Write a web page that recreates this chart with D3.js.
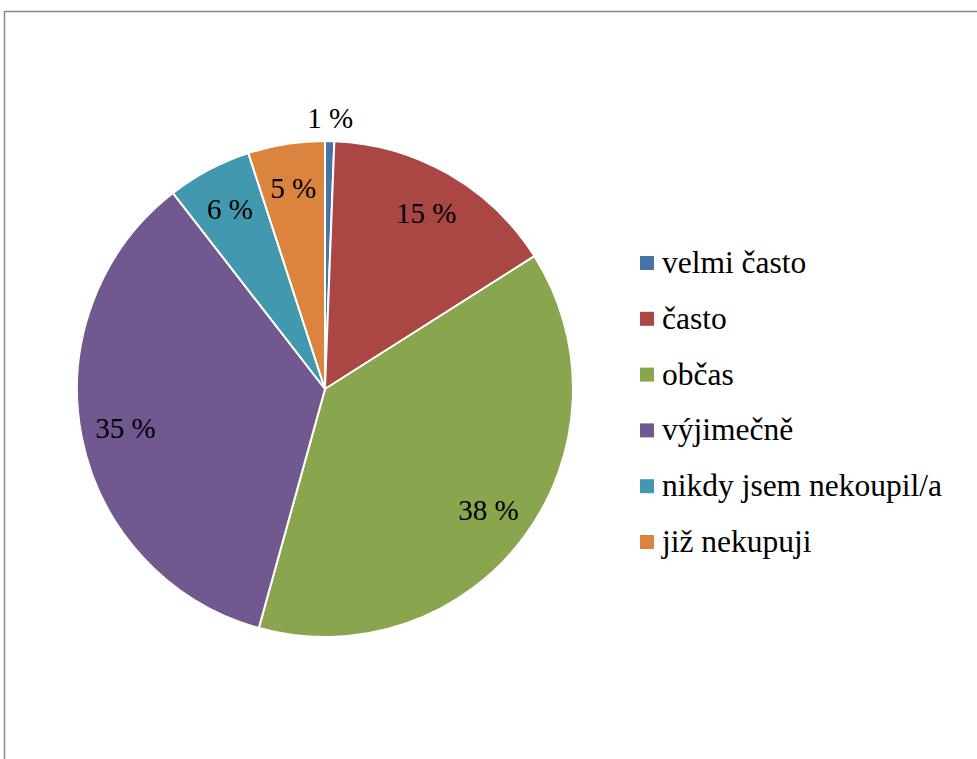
<!DOCTYPE html>
<html>
<head>
<meta charset="utf-8">
<script src="https://cdn.jsdelivr.net/npm/d3@7"></script>
<style>
  html, body { margin: 0; padding: 0; background: #fff; }
  svg { display: block; }
  svg text { font-family: "Liberation Serif", serif !important; }
</style>
</head>
<body>
<svg id="chart" width="977" height="759"></svg>
<script>
// Survey answers: how often the respondent buys
const categories = ["velmi často", "často", "občas", "výjimečně", "nikdy jsem nekoupil/a", "již nekupuji"];
const shares = [0.6, 15.4, 38.3, 35.2, 5.5, 5.0];
const colors = ["#4572A7", "#AA4643", "#89A54E", "#71588F", "#4198AF", "#DB843D"];

const FONT = "'Liberation Serif', serif";

const svg = d3.select("#chart");
const W = 977, H = 759;

// chart frame (open to the right and bottom)
svg.append("rect")
  .attr("x", 4.5).attr("y", 11.5)
  .attr("width", W + 10).attr("height", H + 10)
  .attr("fill", "#fff")
  .attr("stroke", "#878787")
  .attr("stroke-width", 1.5);

const cx = 325, cy = 389, R = 248;
const labelSize = 29, legendSize = 31.5;

const data = categories.map((c, i) => ({ name: c, value: shares[i], color: colors[i] }));

const pie = d3.pie().value(d => d.value).sort(null);
const arcs = pie(data);
const arc = d3.arc().innerRadius(0).outerRadius(R);

const g = svg.append("g").attr("transform", `translate(${cx},${cy})`);

g.selectAll("path.slice")
  .data(arcs)
  .join("path")
  .attr("class", "slice")
  .attr("d", arc)
  .attr("fill", d => d.data.color)
  .attr("stroke", "#fff")
  .attr("stroke-width", 2)
  .attr("stroke-linejoin", "round");

// percentage labels: inside the slice, or just outside for a very thin slice
const insideArc = d3.arc().innerRadius(R * 0.82).outerRadius(R * 0.82);
const outsideArc = d3.arc().innerRadius(R + 23).outerRadius(R + 23);

g.selectAll("text.pct")
  .data(arcs)
  .join("text")
  .attr("class", "pct")
  .attr("transform", d => {
    const p = (d.data.value < 2 ? outsideArc : insideArc).centroid(d);
    return `translate(${p[0]},${p[1]})`;
  })
  .attr("text-anchor", "middle")
  .attr("dy", "0.34em")
  .style("font-family", FONT, "important")
  .style("font-size", labelSize + "px")
  .text(d => Math.round(d.data.value) + " %");

// legend
const legX = 640, legY = 273, legStep = 55.8;
const leg = svg.append("g");
const rows = leg.selectAll("g.row")
  .data(data)
  .join("g")
  .attr("class", "row")
  .attr("transform", (d, i) => `translate(${legX},${legY + i * legStep})`);

rows.append("rect")
  .attr("x", 0).attr("y", -17)
  .attr("width", 14).attr("height", 14)
  .attr("fill", d => d.color);

rows.append("text")
  .attr("x", 22).attr("y", 0)
  .style("font-family", FONT, "important")
  .style("font-size", legendSize + "px")
  .text(d => d.name);
</script>
</body>
</html>
